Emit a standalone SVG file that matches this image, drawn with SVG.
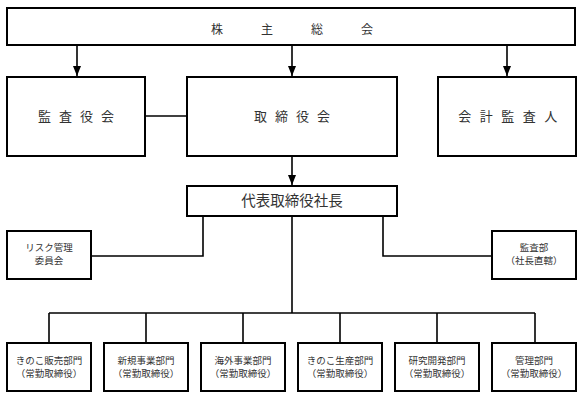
<svg xmlns="http://www.w3.org/2000/svg" width="583" height="398" viewBox="0 0 583 398">
<style>
.box{fill:#fff;stroke:#000;stroke-width:2}
.ln{fill:none;stroke:#000;stroke-width:1.6}
text{font-family:"Noto Sans CJK JP","Noto Sans CJK SC",sans-serif;fill:#333;text-anchor:middle}
.big{font-size:13px}
.mid{font-size:14.5px}
.sm{font-size:9.5px}
</style>
<defs>
<marker id="ah" markerUnits="userSpaceOnUse" markerWidth="10" markerHeight="10" viewBox="0 0 10 10" refX="10" refY="5" orient="auto">
<path d="M0,1 L10,5 L0,9 Z" fill="#000"/>
</marker>
</defs>
<rect width="583" height="398" fill="#fff"/>
<g id="connectors">
<line class="ln" x1="77" y1="46" x2="77" y2="76" marker-end="url(#ah)"/>
<line class="ln" x1="292" y1="46" x2="292" y2="76" marker-end="url(#ah)"/>
<line class="ln" x1="507" y1="46" x2="507" y2="76" marker-end="url(#ah)"/>
<line class="ln" x1="145" y1="116" x2="187" y2="116"/>
<line class="ln" x1="292" y1="156" x2="292" y2="185" marker-end="url(#ah)"/>
<polyline class="ln" points="203,216 203,256 91,256"/>
<polyline class="ln" points="383,216 383,256 492,256"/>
<line class="ln" x1="292" y1="216" x2="292" y2="313"/>
<line class="ln" x1="49" y1="313" x2="535" y2="313"/>
<line class="ln" x1="49" y1="313" x2="49" y2="343"/>
<line class="ln" x1="146" y1="313" x2="146" y2="343"/>
<line class="ln" x1="243" y1="313" x2="243" y2="343"/>
<line class="ln" x1="340" y1="313" x2="340" y2="343"/>
<line class="ln" x1="437" y1="313" x2="437" y2="343"/>
<line class="ln" x1="535" y1="313" x2="535" y2="343"/>
</g>
<g id="n-kabunushi">
<rect class="box" x="7" y="8" width="568" height="37"/>
<text x="311" y="34" style="font-size:12px;letter-spacing:38px">株主総会</text>
</g>
<g id="n-kansayakukai">
<rect class="box" x="7" y="77" width="138" height="79"/>
<text class="big" x="80" y="121" style="letter-spacing:8px">監査役会</text>
</g>
<g id="n-torishimariyakukai">
<rect class="box" x="187" y="77" width="210" height="79"/>
<text class="big" x="296" y="121" style="letter-spacing:8px">取締役会</text>
</g>
<g id="n-kaikeikansanin">
<rect class="box" x="438" y="77" width="138" height="79"/>
<text class="big" x="512" y="121" style="letter-spacing:8.5px">会計監査人</text>
</g>
<g id="n-shacho">
<rect class="box" x="187" y="186" width="210" height="30"/>
<text class="mid" x="292" y="206">代表取締役社長</text>
</g>
<g id="n-risk">
<rect class="box" x="7" y="231" width="84" height="48"/>
<text class="sm" x="49" y="251">リスク管理</text>
<text class="sm" x="49" y="264">委員会</text>
</g>
<g id="n-kansabu">
<rect class="box" x="492" y="231" width="84" height="48"/>
<text class="sm" x="534" y="251">監査部</text>
<text class="sm" x="534" y="264">（社長直轄）</text>
</g>
<g id="n-kinoko-hanbai">
<rect class="box" x="7" y="343" width="84" height="48"/>
<text class="sm" x="49" y="364">きのこ販売部門</text>
<text class="sm" x="49" y="377">（常勤取締役）</text>
</g>
<g id="n-shinki">
<rect class="box" x="104" y="343" width="84" height="48"/>
<text class="sm" x="146" y="364">新規事業部門</text>
<text class="sm" x="146" y="377">（常勤取締役）</text>
</g>
<g id="n-kaigai">
<rect class="box" x="201" y="343" width="84" height="48"/>
<text class="sm" x="243" y="364">海外事業部門</text>
<text class="sm" x="243" y="377">（常勤取締役）</text>
</g>
<g id="n-kinoko-seisan">
<rect class="box" x="298" y="343" width="84" height="48"/>
<text class="sm" x="340" y="364">きのこ生産部門</text>
<text class="sm" x="340" y="377">（常勤取締役）</text>
</g>
<g id="n-kenkyu">
<rect class="box" x="395" y="343" width="84" height="48"/>
<text class="sm" x="437" y="364">研究開発部門</text>
<text class="sm" x="437" y="377">（常勤取締役）</text>
</g>
<g id="n-kanri">
<rect class="box" x="492" y="343" width="84" height="48"/>
<text class="sm" x="534" y="364">管理部門</text>
<text class="sm" x="534" y="377">（常勤取締役）</text>
</g>
</svg>
